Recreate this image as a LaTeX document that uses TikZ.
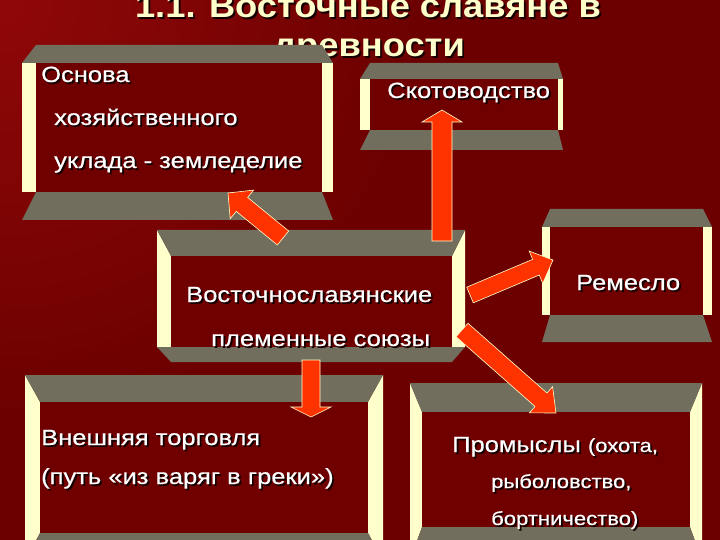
\documentclass[tikz,border=0pt]{standalone}
\usepackage{fontspec}
\setmainfont{Liberation Sans}[FakeStretch=1.16,FakeBold=0.5]
\newfontfamily\titlefont{Liberation Sans}[FakeStretch=1.1]
\usetikzlibrary{calc}
\definecolor{bgred}{HTML}{6C0000}
\definecolor{bglight}{HTML}{900808}
\definecolor{innerred}{HTML}{700000}
\definecolor{bandgray}{HTML}{726E5E}
\definecolor{cream}{HTML}{FFFFCC}
\definecolor{arrowred}{HTML}{FF3300}
\definecolor{shadowc}{HTML}{150000}
\definecolor{titlecol}{HTML}{FFFFCC}
\def\modeRS{RS}\def\modeSR{SR}
% #1 x1, #2 y1, #3 x2, #4 y2, #5 left, #6 right, #7 top, #8 bottom, #9 mode
\newcommand\bevelbox[9]{%
  \pgfmathsetmacro\xa{#1}\pgfmathsetmacro\ya{#2}%
  \pgfmathsetmacro\xb{#3}\pgfmathsetmacro\yb{#4}%
  \pgfmathsetmacro\xai{#1+#5}\pgfmathsetmacro\xbi{#3-#6}%
  \pgfmathsetmacro\yai{#2+#7}\pgfmathsetmacro\ybi{#4-#8}%
  \def\tmpmode{#9}%
  \ifx\tmpmode\modeRS
    \fill[side] (\xa,\yai) -- (\xai,\yai) -- (\xai,\ybi) -- (\xa,\ybi) -- cycle;
    \fill[side] (\xb,\yai) -- (\xbi,\yai) -- (\xbi,\ybi) -- (\xb,\ybi) -- cycle;
    \fill[band] (\xai,\ya) -- (\xbi,\ya) -- (\xb,\yai) -- (\xa,\yai) -- cycle;
    \fill[band] (\xai,\ybi) -- (\xbi,\ybi) -- (\xb,\yb) -- (\xa,\yb) -- cycle;
  \else\ifx\tmpmode\modeSR
    \fill[side] (\xa,\ya) -- (\xai,\yai) -- (\xai,\ybi) -- (\xa,\ybi) -- cycle;
    \fill[side] (\xb,\ya) -- (\xbi,\yai) -- (\xbi,\ybi) -- (\xb,\ybi) -- cycle;
    \fill[band] (\xa,\ya) -- (\xb,\ya) -- (\xbi,\yai) -- (\xai,\yai) -- cycle;
    \fill[band] (\xa,\ybi) -- (\xb,\ybi) -- (\xbi,\yb) -- (\xai,\yb) -- cycle;
  \else
    \fill[side] (\xa,\ya) -- (\xai,\yai) -- (\xai,\ybi) -- (\xa,\yb) -- cycle;
    \fill[side] (\xb,\ya) -- (\xbi,\yai) -- (\xbi,\ybi) -- (\xb,\yb) -- cycle;
    \fill[band] (\xa,\ya) -- (\xb,\ya) -- (\xbi,\yai) -- (\xai,\yai) -- cycle;
    \fill[band] (\xai,\ybi) -- (\xbi,\ybi) -- (\xb,\yb) -- (\xa,\yb) -- cycle;
  \fi\fi
  \fill[innerred] (\xai,\yai) rectangle (\xbi,\ybi);
}
% #1 tail, #2 tip, #3 half shaft, #4 half head, #5 head length
\newcommand\blkarrow[5]{%
  \coordinate (ab) at ($(#2)!#5!(#1)$);
  \draw[blk] ($(#1)!#3!90:(#2)$) -- ($(ab)!#3!90:(#2)$) -- ($(ab)!#4!90:(#2)$)
    -- (#2) -- ($(ab)!#4!-90:(#2)$) -- ($(ab)!#3!-90:(#2)$) -- ($(#1)!#3!-90:(#2)$) -- cycle;
}
% #1 name, #2 style, #3 position, #4 text
\newcommand\stext[4]{%
  \node[#2, text=shadowc] (#1s) at ($(#3)+(1.8,1.8)$) {#4};
  \node[#2] (#1) at (#3) {#4};
}
\begin{document}
\begin{tikzpicture}[x=1pt,y=-1pt,
  tx/.style={anchor=base west, inner sep=0pt, text=white, font=\fontsize{22}{26}\selectfont},
  ttl/.style={anchor=base, inner sep=0pt, text=titlecol, font=\titlefont\bfseries\fontsize{33}{38}\selectfont},
  blk/.style={fill=arrowred, draw=cream, line width=0.6pt, line join=miter},
  band/.style={fill=bandgray},
  side/.style={fill=cream}]
\useasboundingbox (0,0) rectangle (720,540);
\clip (0,0) rectangle (720,540);
\fill[bgred] (0,0) rectangle (720,540);
\shade[inner color=bglight, outer color=bgred] (0,0) circle[radius=420];

% title
\stext{title1}{ttl}{368,18}{1.1. Восточные славяне в}
\stext{title2}{ttl}{369,57}{древности}

% boxes
\bevelbox{22}{45}{333}{220}{14}{11}{18}{28}{RS}
\bevelbox{360}{63}{563}{150}{10}{5}{16}{20}{RS}
\bevelbox{157}{230}{465}{362}{14}{13}{26}{15}{SR}
\bevelbox{542}{209}{712}{342}{8}{9}{18}{27}{RS}
\bevelbox{25}{375}{383}{560}{15}{15}{27}{27}{SS}
\bevelbox{410}{383}{702}{560}{12}{12}{29}{33}{SS}

% arrow end points
\coordinate (tA) at (283,238); \coordinate (hA) at (228,193);
\coordinate (tB) at (442,241); \coordinate (hB) at (442,110);
\coordinate (tC) at (470,295); \coordinate (hC) at (553,260);
\coordinate (tD) at (462,330); \coordinate (hD) at (556,413);
\coordinate (tE) at (311,360); \coordinate (hE) at (311,417);
\blkarrow{tA}{hA}{9pt}{18.5pt}{18pt}
\blkarrow{tB}{hB}{10pt}{20pt}{12pt}
\blkarrow{tC}{hC}{8.5pt}{17.5pt}{18.5pt}
\blkarrow{tD}{hD}{9pt}{17.5pt}{20pt}
\blkarrow{tE}{hE}{9pt}{20pt}{10pt}

% texts
\stext{o1}{tx}{41,82}{Основа}
\stext{o2}{tx}{54,125}{хозяйственного}
\stext{o3}{tx}{54,168}{уклада - земледелие}
\stext{sk}{tx}{387,98}{Скотоводство}
\stext{v1}{tx}{186,302}{Восточнославянские}
\stext{v2}{tx}{211,346}{племенные союзы}
\stext{rm}{tx}{576,290}{Ремесло}
\stext{w1}{tx}{41,445}{Внешняя торговля}
\stext{w2}{tx}{41,484}{(путь «из варяг в греки»)}
\stext{p1}{tx}{452,452}{Промыслы {\fontsize{19}{22}\selectfont(охота,}}
\stext{p2}{tx}{491,488}{\fontsize{19}{22}\selectfont рыболовство,}
\stext{p3}{tx}{491,525}{\fontsize{19}{22}\selectfont бортничество)}
\end{tikzpicture}
\end{document}
